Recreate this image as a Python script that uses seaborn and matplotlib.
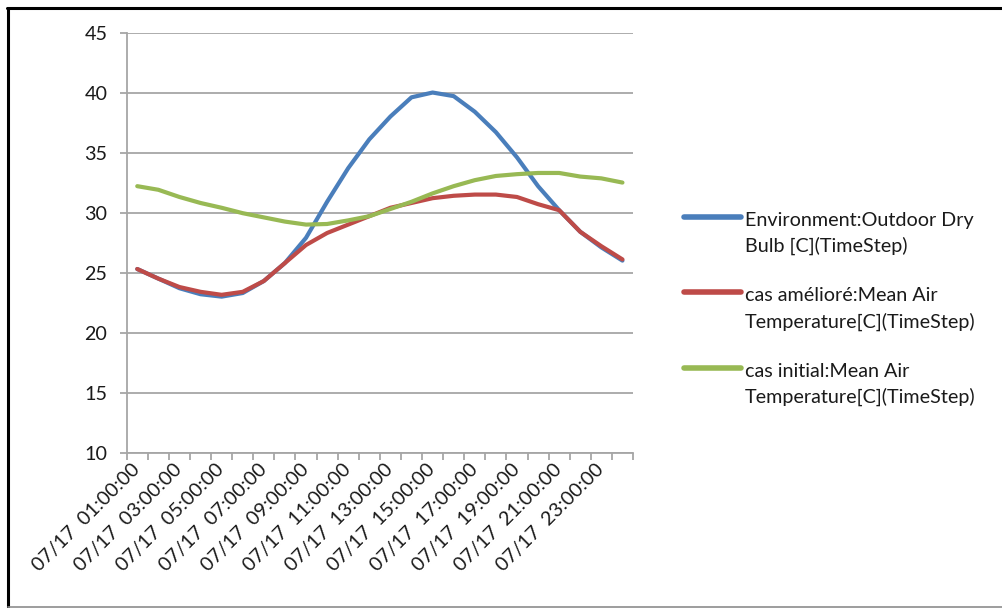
import numpy as np
import pandas as pd
import matplotlib
matplotlib.use("Agg")
import matplotlib.pyplot as plt
from matplotlib.lines import Line2D
from matplotlib.legend_handler import HandlerLine2D
import seaborn as sns

# Hourly time steps for 17 July
hours = [f"07/17  {h:02d}:00:00" for h in range(1, 25)]

outdoor_dry_bulb = [25.3, 24.5, 23.7, 23.2, 23.0, 23.3, 24.3, 25.8, 27.9, 30.9, 33.7, 36.1,
                    38.0, 39.6, 40.0, 39.7, 38.4, 36.7, 34.6, 32.2, 30.2, 28.4, 27.1, 26.0]
cas_ameliore = [25.3, 24.5, 23.8, 23.4, 23.15, 23.4, 24.3, 25.8, 27.3, 28.3, 29.0, 29.7,
                30.4, 30.8, 31.2, 31.4, 31.5, 31.5, 31.3, 30.7, 30.2, 28.4, 27.2, 26.1]
cas_initial = [32.2, 31.9, 31.3, 30.8, 30.4, 29.95, 29.6, 29.25, 29.0, 29.05, 29.35, 29.7,
               30.3, 30.9, 31.6, 32.2, 32.7, 33.05, 33.2, 33.3, 33.3, 33.0, 32.85, 32.5]

series_names = ["Environment:Outdoor Dry\nBulb [C](TimeStep)",
                "cas amélioré:Mean Air\nTemperature[C](TimeStep)",
                "cas initial:Mean Air\nTemperature[C](TimeStep)"]
series_values = [outdoor_dry_bulb, cas_ameliore, cas_initial]
series_colors = ["#4A7EBB", "#BE4B48", "#98B954"]

yticks = [10, 15, 20, 25, 30, 35, 40, 45]

df = pd.concat(
    [pd.DataFrame({"step": np.arange(len(hours)), "temp": vals, "series": name})
     for name, vals in zip(series_names, series_values)],
    ignore_index=True,
)

sns.set_theme(style="white")
plt.rcParams["font.family"] = ["Lato", "DejaVu Sans"]

W, H = 1003, 608
fig = plt.figure(figsize=(W / 100, H / 100), dpi=100)
ax = fig.add_axes([126.7 / W, 1 - 452.7 / H, (633 - 126.7) / W, (452.7 - 32.5) / H])

palette = dict(zip(series_names, series_colors))
sns.lineplot(data=df, x="step", y="temp", hue="series", palette=palette,
             linewidth=3.0, sort=False, ax=ax, legend=False)
for ln in ax.get_lines():
    ln.set_solid_capstyle("round")
    ln.set_solid_joinstyle("round")

grid_c = "#A6A6A6"
ax.set_xlim(-0.5, len(hours) - 0.5)
ax.set_ylim(10, 45)
ax.set_yticks(yticks)
ax.set_yticklabels([str(v) for v in yticks])
ax.yaxis.grid(True, color=grid_c, linewidth=1.3)
ax.xaxis.grid(False)
ax.set_axisbelow(True)
for s in ["top", "right"]:
    ax.spines[s].set_visible(False)
for s in ["left", "bottom"]:
    ax.spines[s].set_color(grid_c)
    ax.spines[s].set_linewidth(1.3)

text_c = "#1A1A1A"
fs = 14.2
ax.tick_params(axis="y", which="major", left=True, length=5, width=1.3, color=grid_c,
               labelsize=fs, labelcolor=text_c, pad=9)

# category labels every other hour, tick marks on category boundaries
ax.set_xticks(np.arange(0, len(hours), 2))
ax.set_xticklabels(hours[::2], rotation=45, ha="right", va="center",
                   rotation_mode="anchor")
ax.set_xticks(np.arange(-0.5, len(hours)), minor=True)
ax.tick_params(axis="x", which="major", bottom=False, length=0, labelsize=fs,
               labelcolor=text_c, pad=10)
ax.tick_params(axis="x", which="minor", bottom=True, length=5, width=1.3, color=grid_c)
ax.set_xlabel("")
ax.set_ylabel("")


class FirstLineHandler(HandlerLine2D):
    def create_artists(self, legend, orig_handle, xdescent, ydescent, width, height,
                       fontsize, trans):
        arts = super().create_artists(legend, orig_handle, xdescent, ydescent, width,
                                      height, fontsize, trans)
        for a in arts:
            a.set_ydata(np.asarray(a.get_ydata()) + 0.85 * fontsize)
        return arts


handles = [Line2D([], [], color=c, linewidth=4.0, solid_capstyle="round") for c in series_colors]
leg = fig.legend(handles, series_names, loc="upper left",
                 bbox_to_anchor=(666 / W, 1 - 194 / H), frameon=False,
                 fontsize=fs, handlelength=2.9, handletextpad=0.2, labelspacing=1.62,
                 handler_map={Line2D: FirstLineHandler()})
for t in leg.get_texts():
    t.set_color(text_c)
    t.set_linespacing(1.55)

# outer chart frame
fig.add_artist(Line2D([7 / W, 1], [1 - 8 / H, 1 - 8 / H], color="black", linewidth=2.2,
                      transform=fig.transFigure))
fig.add_artist(Line2D([8 / W, 8 / W], [1 - 8 / H, 1 - 607 / H], color="black", linewidth=2.2,
                      transform=fig.transFigure))
fig.add_artist(Line2D([8 / W, 1], [1 - 606.5 / H, 1 - 606.5 / H], color="#8C8C8C",
                      linewidth=1.2, transform=fig.transFigure))

fig.savefig("out.png", dpi=100)
